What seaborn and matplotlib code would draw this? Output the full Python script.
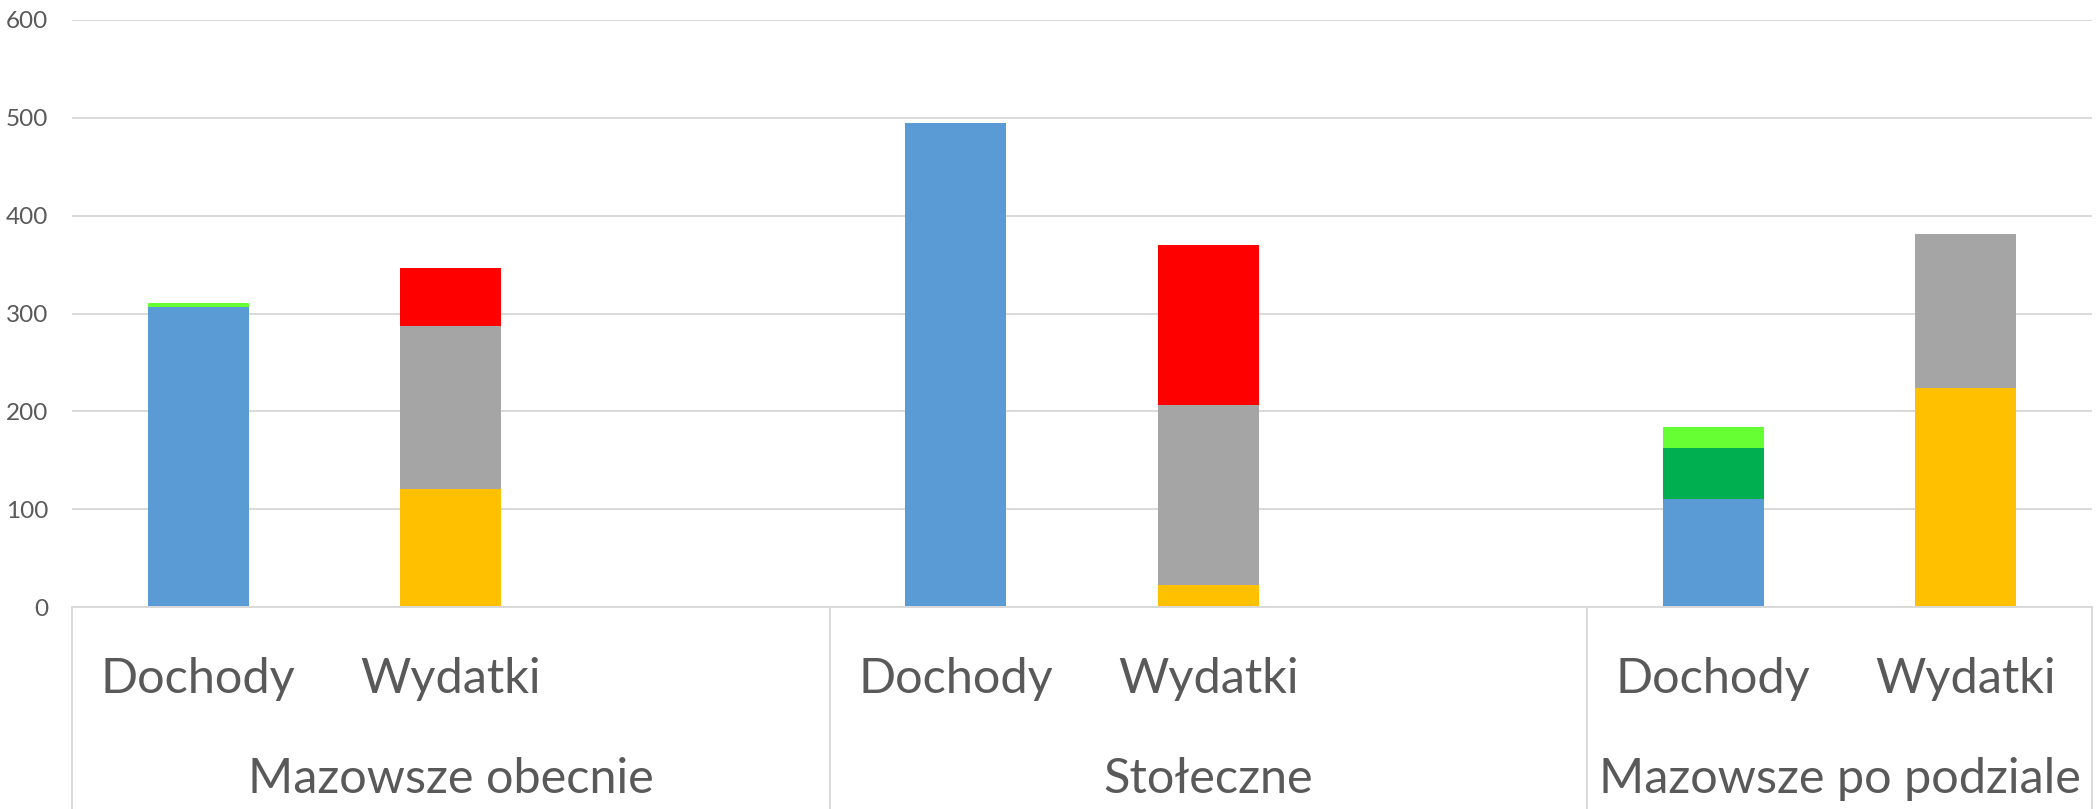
import numpy as np
import pandas as pd
import matplotlib
matplotlib.use('Agg')
import matplotlib.pyplot as plt
import seaborn as sns

# ── data ──
groups = ["Mazowsze obecnie", "Stołeczne", "Mazowsze po podziale"]
bar_names = ["Dochody", "Wydatki"]

# Dochody stacks (bottom -> top)
doch_blue = [307, 495, 110]
doch_dkgreen = [0, 0, 53]
doch_ltgreen = [3.5, 0, 21]
# Wydatki stacks (bottom -> top)
wyd_yellow = [121, 22, 224]
wyd_gray = [166, 184, 157]
wyd_red = [60, 164, 0]

yticks = [0, 100, 200, 300, 400, 500, 600]

layers = [
    ("Dochody", "blue", doch_blue, "#5B9BD5"),
    ("Dochody", "dkgreen", doch_dkgreen, "#00B050"),
    ("Dochody", "ltgreen", doch_ltgreen, "#66FF33"),
    ("Wydatki", "yellow", wyd_yellow, "#FFC000"),
    ("Wydatki", "gray", wyd_gray, "#A5A5A5"),
    ("Wydatki", "red", wyd_red, "#FF0000"),
]

# slot order: each group has Dochody, Wydatki, then an empty gap (not after the last)
slot_order = []
for gi, g in enumerate(groups):
    for b in bar_names:
        slot_order.append(f"{g}|{b}")
    if gi < len(groups) - 1:
        slot_order.append(f"{g}|gap")

rows = []
for bar, layer, vals, col in layers:
    for g, v in zip(groups, vals):
        rows.append(dict(slot=f"{g}|{bar}", layer=layer, value=v, color=col))
df = pd.DataFrame(rows)
df['cum'] = df.groupby('slot')['value'].cumsum()

sns.set_style('white')
plt.rcParams['font.family'] = ['Lato', 'DejaVu Sans']
text_col = '#595959'
grid_col = '#D9D9D9'

fig = plt.figure(figsize=(20.99, 8.09), dpi=100)
ax = fig.add_axes([72 / 2099, 1 - 607 / 809, (2092 - 72) / 2099, (607 - 20) / 809])

# draw cumulative totals from the top layer down so lower layers overlay
for bar, layer, vals, col in reversed(layers):
    sub = df[df['layer'] == layer]
    sns.barplot(data=sub, x='slot', y='cum', order=slot_order, color=col,
                saturation=1, width=0.4, ax=ax, linewidth=0, errorbar=None)

ax.set_ylim(0, 600)
ax.set_xlim(-0.5, len(slot_order) - 0.5)
ax.set_yticks(yticks)
ax.set_yticklabels([str(t) for t in yticks], fontsize=17.5, color=text_col)
ax.tick_params(axis='y', length=0, pad=17)
ax.yaxis.grid(True, color=grid_col, linewidth=1.4)
ax.set_axisbelow(True)
for s in ['left', 'right', 'top']:
    ax.spines[s].set_visible(False)
ax.spines['bottom'].set_color(grid_col)
ax.spines['bottom'].set_linewidth(1.4)
ax.set_xlabel('')
ax.set_ylabel('')
ax.set_xticks([])

# multi-level category axis
xt = ax.get_xaxis_transform()
bounds = [-0.5]
for i, s in enumerate(slot_order):
    if s.endswith('|gap'):
        bounds.append(i + 0.5)
bounds.append(len(slot_order) - 0.5)
for b in bounds:
    ax.plot([b, b], [0, -0.36], transform=xt, color=grid_col, lw=1.4, clip_on=False)

for i, s in enumerate(slot_order):
    g, b = s.split('|')
    if b != 'gap':
        ax.text(i, -0.1465, b, transform=xt, ha='center', va='baseline',
                fontsize=35, color=text_col)
for gi, g in enumerate(groups):
    lo, hi = bounds[gi], bounds[gi + 1]
    ax.text((lo + hi) / 2, -0.317, g, transform=xt, ha='center', va='baseline',
            fontsize=35, color=text_col)

fig.savefig('out.png', dpi=100)
plt.close()
